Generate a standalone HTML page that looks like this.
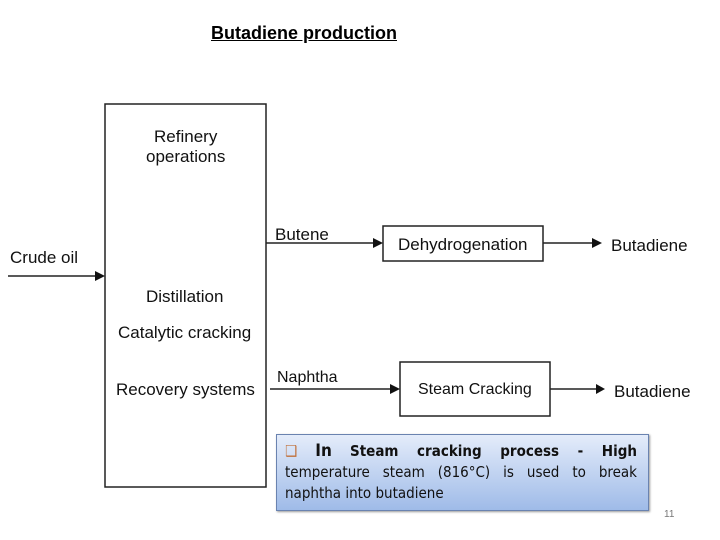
<!DOCTYPE html>
<html><head><style>
body{margin:0;width:720px;height:540px;background:#fff;position:relative;overflow:hidden;font-family:"Liberation Sans",sans-serif}
.t{position:absolute;font-size:17px;color:#111;white-space:nowrap;line-height:20px}
.note{position:absolute;left:276px;top:434px;width:373px;height:77px;box-sizing:border-box;border:1px solid #6a83b0;background:linear-gradient(#e4ecfa,#9fbbe8);box-shadow:1px 1px 2px #999;padding:6px 11px 0 8px;font-size:15px;line-height:21px;color:#111;font-family:"DejaVu Sans Condensed","Liberation Sans",sans-serif}
.j{text-align:justify;text-align-last:justify;white-space:nowrap}
</style></head><body>
<div style="position:absolute;left:211px;top:23px;font-size:18px;font-weight:bold;text-decoration:underline">Butadiene production</div>
<svg width="720" height="540" style="position:absolute;left:0;top:0">
<g stroke="#222" fill="none" stroke-width="1.5">
<rect x="105" y="104" width="161" height="383"/>
<rect x="383" y="226" width="160" height="35"/>
<rect x="400" y="362" width="150" height="54"/>
<line x1="8" y1="276" x2="96" y2="276"/>
<line x1="266" y1="243" x2="374" y2="243"/>
<line x1="543" y1="243" x2="593" y2="243"/>
<line x1="270" y1="389" x2="391" y2="389"/>
<line x1="550" y1="389" x2="597" y2="389"/>
</g>
<g fill="#111">
<polygon points="105,276 95,271 95,281"/>
<polygon points="383,243 373,238 373,248"/>
<polygon points="602,243 592,238 592,248"/>
<polygon points="400,389 390,384 390,394"/>
<polygon points="605,389 596,384 596,394"/>
</g>
</svg>
<div class="t" style="left:146px;top:127px;text-align:center">Refinery<br>operations</div>
<div class="t" style="left:10px;top:248px">Crude oil</div>
<div class="t" style="left:146px;top:287px">Distillation</div>
<div class="t" style="left:118px;top:323px">Catalytic cracking</div>
<div class="t" style="left:116px;top:380px">Recovery systems</div>
<div class="t" style="left:275px;top:225px">Butene</div>
<div class="t" style="left:398px;top:235px">Dehydrogenation</div>
<div class="t" style="left:611px;top:236px">Butadiene</div>
<div class="t" style="left:277px;top:368px;font-size:16px">Naphtha</div>
<div class="t" style="left:418px;top:380px;font-size:16px">Steam Cracking</div>
<div class="t" style="left:614px;top:382px">Butadiene</div>
<div class="note"><div class="j"><span style="color:#c0703a">&#10065;</span> <span style="font-size:17px;font-weight:bold">In</span> <b>Steam cracking process - High</b></div><div class="j">temperature steam (816°C) is used to break</div><div>naphtha into butadiene</div></div>
<div style="position:absolute;left:664px;top:509px;font-size:10px;color:#777">11</div>
</body></html>
